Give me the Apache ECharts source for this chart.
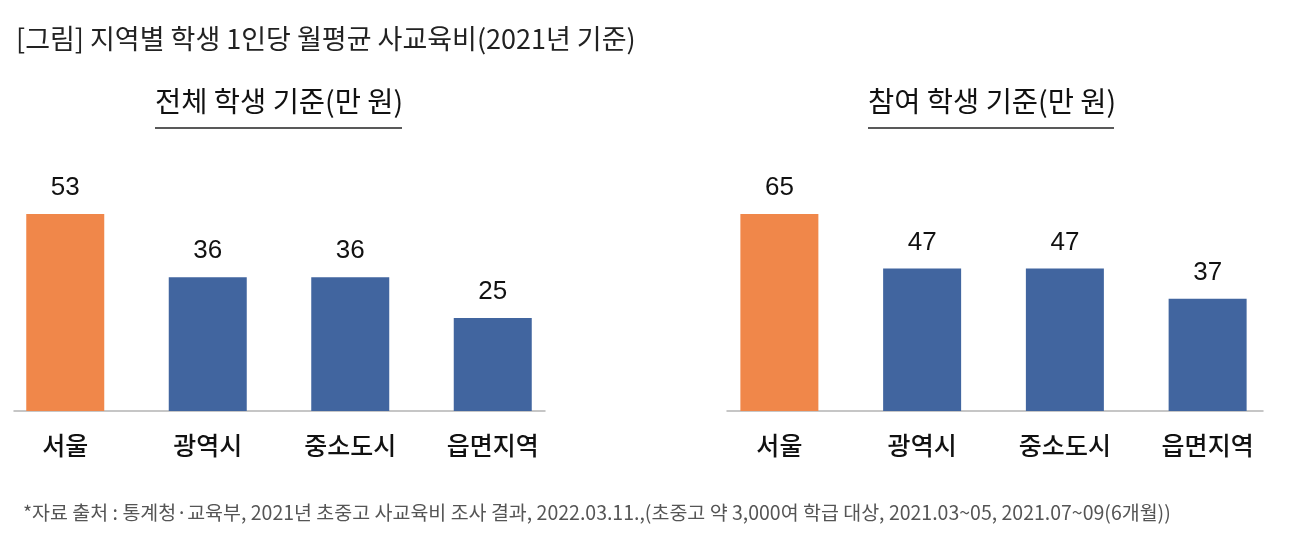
<!DOCTYPE html>
<html>
<head>
<meta charset="utf-8">
<script src="https://cdn.jsdelivr.net/npm/echarts@6/dist/echarts.min.js"></script>
<style>
html,body{margin:0;padding:0;background:#fff;}
#c{width:1294px;height:554px;}
</style>
</head>
<body>
<div id="c"></div>
<script>
var categories = ['서울', '광역시', '중소도시', '읍면지역'];
var allStudents = [53, 36, 36, 25];
var participants = [65, 47, 47, 37];
var highlightIndex = 0;

var mainTitle = '[그림] 지역별 학생 1인당 월평균 사교육비(2021년 기준)';
var leftTitle = '전체 학생 기준(만 원)';
var rightTitle = '참여 학생 기준(만 원)';
var sourceNote = '*자료 출처 : 통계청·교육부, 2021년 초중고 사교육비 조사 결과, 2022.03.11.,(초중고 약 3,000여 학급 대상, 2021.03~05, 2021.07~09(6개월))';

var KR = '"Noto Sans CJK KR", "Noto Sans", sans-serif';
var NUM = '"Liberation Sans", Arial, sans-serif';
var ORANGE = '#F0874A';
var BLUE = '#41659F';

function barData(vals) {
  return vals.map(function (v, i) {
    return { value: v, itemStyle: { color: i === highlightIndex ? ORANGE : BLUE } };
  });
}

var chart = echarts.init(document.getElementById('c'));
var option = {
  backgroundColor: '#fff',
  animation: false,
  title: [
    { text: mainTitle, left: 11, top: 20, textStyle: { fontFamily: KR, fontSize: 27, fontWeight: 'normal', color: '#222' } },
    { text: sourceNote, left: 18, top: 498, textStyle: { fontFamily: KR, fontSize: 19.5, fontWeight: 'normal', color: '#555' } }
  ],
  graphic: [
    { type: 'text', left: 155, top: 87, style: { text: leftTitle, font: 'normal 28.5px ' + KR, fill: '#111' } },
    { type: 'line', shape: { x1: 155, y1: 128, x2: 402, y2: 128 }, style: { stroke: '#222', lineWidth: 1.5 } },
    { type: 'text', left: 868, top: 87, style: { text: rightTitle, font: 'normal 28.5px ' + KR, fill: '#111' } },
    { type: 'line', shape: { x1: 868, y1: 128, x2: 1114, y2: 128 }, style: { stroke: '#222', lineWidth: 1.5 } }
  ],
  grid: [
    { left: -6, width: 570, top: 214, bottom: 143, outerBoundsMode: 'none', containLabel: false },
    { left: 708, width: 571, top: 214, bottom: 143, outerBoundsMode: 'none', containLabel: false },
    { left: 14, width: 531, top: 214, bottom: 143, outerBoundsMode: 'none', containLabel: false },
    { left: 727, width: 536, top: 214, bottom: 143, outerBoundsMode: 'none', containLabel: false }
  ],
  xAxis: [
    { gridIndex: 0, type: 'category', data: categories, axisLine: { show: false }, axisTick: { show: false },
      axisLabel: { margin: 22, fontFamily: KR, fontSize: 25, fontWeight: 500, color: '#111' } },
    { gridIndex: 1, type: 'category', data: categories, axisLine: { show: false }, axisTick: { show: false },
      axisLabel: { margin: 22, fontFamily: KR, fontSize: 25, fontWeight: 500, color: '#111' } },
    { gridIndex: 2, type: 'value', min: 0, max: 1, axisLine: { show: true, lineStyle: { color: '#b4b4b4', width: 1.5 } },
      axisTick: { show: false }, axisLabel: { show: false }, splitLine: { show: false } },
    { gridIndex: 3, type: 'value', min: 0, max: 1, axisLine: { show: true, lineStyle: { color: '#b4b4b4', width: 1.5 } },
      axisTick: { show: false }, axisLabel: { show: false }, splitLine: { show: false } }
  ],
  yAxis: [
    { gridIndex: 0, type: 'value', min: 0, max: Math.max.apply(null, allStudents), show: false },
    { gridIndex: 1, type: 'value', min: 0, max: Math.max.apply(null, participants), show: false },
    { gridIndex: 2, type: 'value', min: 0, max: 1, show: false },
    { gridIndex: 3, type: 'value', min: 0, max: 1, show: false }
  ],
  series: [
    { type: 'bar', xAxisIndex: 0, yAxisIndex: 0, data: barData(allStudents), barWidth: 78,
      label: { show: true, position: 'top', distance: 13, fontFamily: NUM, fontSize: 26, color: '#111' } },
    { type: 'bar', xAxisIndex: 1, yAxisIndex: 1, data: barData(participants), barWidth: 78,
      label: { show: true, position: 'top', distance: 13, fontFamily: NUM, fontSize: 26, color: '#111' } }
  ]
};
chart.setOption(option);
</script>
</body>
</html>
